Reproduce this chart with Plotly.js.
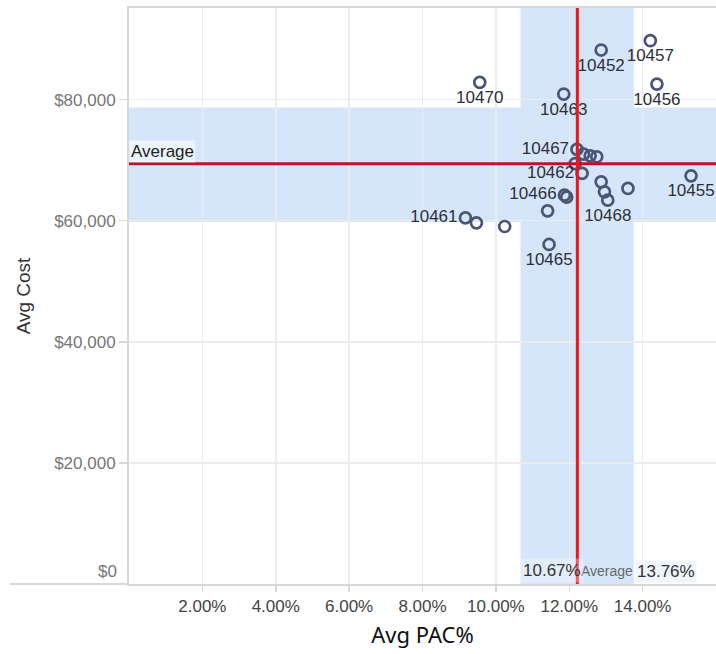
<!DOCTYPE html>
<html>
<head>
<meta charset="utf-8">
<script src="https://cdn.plot.ly/plotly-3.0.1.min.js"></script>
<style>
  html, body { margin: 0; padding: 0; background: #ffffff; }
  #chart { width: 716px; height: 654px; }
</style>
</head>
<body>
<div id="chart"></div>
<script>
// ---- data ----
const storeIds = ['10457','10452','10470','10463','10456','10467','','','','','10462','','','10468','','10455','10466','','','10461','','','10465'];
const avgPac = [14.21,12.87,9.56,11.85,14.39,12.21,12.39,12.57,12.75,12.16,12.35,12.87,12.96,13.05,13.60,15.32,11.87,11.93,11.41,9.17,9.47,10.24,11.45];
const avgCost = [89720,88180,82840,80910,82560,71770,70990,70710,70550,69420,67800,66410,64760,63390,65320,67400,64210,63880,61620,60460,59640,59040,56070];

const xTickVals = [2,4,6,8,10,12,14];
const yTickVals = [0,20000,40000,60000,80000];

const pacAverage = 12.22;
const pacBandLow = 10.67;
const pacBandHigh = 13.76;
const costAverage = 69400;
const costBandLow = 59800;
const costBandHigh = 78700;

// ---- label placement (style, kept apart from data) ----
const leftLabelled = ['10467','10462','10466','10461'];
const textPositions = storeIds.map(id => leftLabelled.includes(id) ? 'middle left' : 'bottom center');

const fmtPct = v => v.toFixed(2) + '%';
const fmtMoney = v => '$' + v.toLocaleString('en-US');

const FONT = '"Liberation Sans", Arial, sans-serif';
const bandColor = '#d6e6fa';

const trace = {
  type: 'scatter',
  mode: 'markers+text',
  x: avgPac,
  y: avgCost,
  text: storeIds,
  textposition: textPositions,
  textfont: { family: FONT, size: 17, color: '#2e2e3a' },
  marker: {
    symbol: 'circle-open',
    size: 11,
    color: '#4b5475',
    line: { width: 2.7, color: '#4b5475' }
  },
  hoverinfo: 'x+y+text',
  cliponaxis: false
};

const layout = {
  width: 716,
  height: 654,
  margin: { l: 129, r: 0, t: 8, b: 70 },
  paper_bgcolor: '#ffffff',
  plot_bgcolor: '#ffffff',
  showlegend: false,
  font: { family: FONT, color: '#444' },
  xaxis: {
    range: [0, 16],
    tickvals: xTickVals,
    ticktext: xTickVals.map(fmtPct),
    tickfont: { family: FONT, size: 17, color: '#444' },
    ticks: 'outside',
    ticklen: 6,
    tickcolor: '#d8d8d8',
    tickwidth: 1.5,
    showgrid: true,
    gridcolor: '#ececec',
    gridwidth: 1.5,
    showline: true,
    linecolor: '#d8d8d8',
    linewidth: 2,
    mirror: true,
    zeroline: false,
    title: {
      text: 'Avg PAC%',
      font: { family: '"Noto Sans", "Open Sans", sans-serif', size: 22, color: '#111' },
      standoff: 12
    }
  },
  yaxis: {
    range: [0, 95120],
    tickvals: yTickVals,
    ticktext: yTickVals.map(v => v === 0 ? '' : fmtMoney(v)),
    tickfont: { family: FONT, size: 17, color: '#777' },
    ticks: 'outside',
    ticklen: 8,
    tickcolor: '#d8d8d8',
    tickwidth: 1.5,
    showgrid: true,
    gridcolor: '#ececec',
    gridwidth: 1.5,
    showline: true,
    linecolor: '#d8d8d8',
    linewidth: 2,
    zeroline: false,
    title: {
      text: 'Avg Cost',
      font: { family: FONT, size: 19, color: '#333' },
      standoff: 18
    }
  },
  shapes: [
    { type: 'rect', layer: 'below', xref: 'paper', x0: 0, x1: 1, yref: 'y', y0: costBandLow, y1: costBandHigh,
      fillcolor: bandColor, line: { width: 0 } },
    { type: 'rect', layer: 'below', xref: 'x', x0: pacBandLow, x1: pacBandHigh, yref: 'paper', y0: 0, y1: 1,
      fillcolor: bandColor, line: { width: 0 } },
    { type: 'line', layer: 'above', xref: 'paper', x0: 0, x1: 1, yref: 'y', y0: costAverage, y1: costAverage,
      line: { color: '#b3172c', width: 3 } },
    { type: 'line', layer: 'above', xref: 'x', x0: pacAverage, x1: pacAverage, yref: 'paper', y0: 0, y1: 1,
      line: { color: '#f01414', width: 3 } },
    { type: 'line', layer: 'above', xref: 'paper', x0: -0.203, x1: 0, yref: 'paper', y0: 0, y1: 0,
      line: { color: '#d8d8d8', width: 2 } }
  ],
  annotations: [
    { xref: 'paper', x: 0, xanchor: 'right', xshift: -10, yref: 'y', y: yTickVals[0], yanchor: 'bottom', yshift: 1,
      text: fmtMoney(yTickVals[0]), showarrow: false, font: { family: FONT, size: 17, color: '#777' } },
    { xref: 'paper', x: 0, xanchor: 'left', yref: 'y', y: costAverage, yanchor: 'bottom', yshift: 1,
      text: 'Average', showarrow: false, bgcolor: 'rgba(255,255,255,0.55)', borderpad: 1,
      font: { family: FONT, size: 17, color: '#222' } },
    { xref: 'x', x: pacAverage, xanchor: 'left', xshift: 3, yref: 'y', y: 0, yanchor: 'bottom', yshift: 4,
      text: 'Average', showarrow: false, borderpad: 0, font: { family: FONT, size: 14, color: '#666' } },
    { xref: 'x', x: pacBandLow, xanchor: 'left', yref: 'y', y: 0, yanchor: 'bottom', yshift: 1,
      text: fmtPct(pacBandLow), showarrow: false, bgcolor: 'rgba(255,255,255,0.3)', borderpad: 2,
      font: { family: FONT, size: 17, color: '#333' } },
    { xref: 'x', x: pacBandHigh, xanchor: 'left', xshift: 1, yref: 'y', y: 0, yanchor: 'bottom', yshift: 1,
      text: fmtPct(pacBandHigh), showarrow: false, bgcolor: 'rgba(236,243,253,0.85)', borderpad: 1,
      font: { family: FONT, size: 17, color: '#333' } }
  ]
};

Plotly.newPlot('chart', [trace], layout, { displayModeBar: false, staticPlot: true });
</script>
</body>
</html>
